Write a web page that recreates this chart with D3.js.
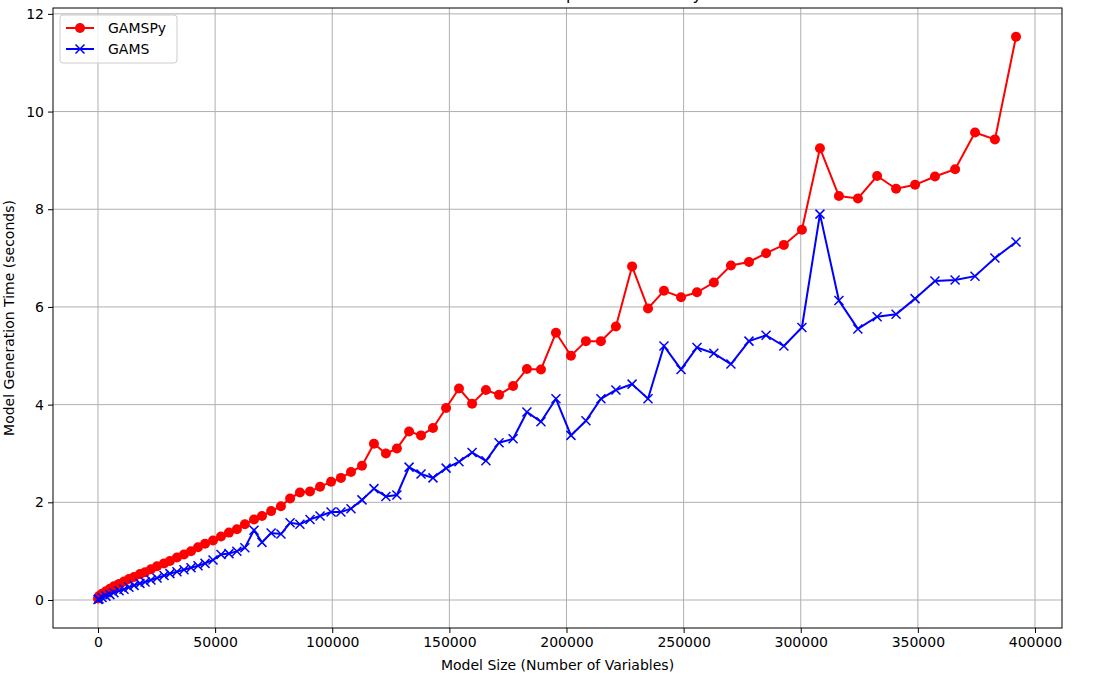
<!DOCTYPE html>
<html><head><meta charset="utf-8">
<script src="https://cdn.jsdelivr.net/npm/d3@7"></script>
<style>body{margin:0;background:#fff}text{font-family:"DejaVu Sans",sans-serif}</style>
</head><body><svg id="c" width="1102" height="677"></svg>
<script>
var sizes = [0,430,1700,3400,5100,6800,9000,11100,13200,15400,17900,20100,22600,25200,28200,30700,33700,36700,39700,42700,45700,49100,52500,55900,59300,62700,66600,70000,73900,78100,82000,86200,90500,94800,99500,103700,108000,112700,117800,122900,127600,132800,137900,143000,148600,154100,159700,165600,171200,177200,183100,189100,195500,201900,208300,214700,221100,228000,234800,241600,248900,255700,262900,270200,277900,285200,292800,300500,308200,316300,324400,332600,340700,348800,357300,365900,374400,382900,391900];
var gamspy = [0.03,0.08,0.13,0.18,0.23,0.28,0.33,0.38,0.43,0.47,0.53,0.57,0.63,0.69,0.75,0.8,0.87,0.93,1.0,1.08,1.15,1.22,1.3,1.38,1.45,1.55,1.65,1.72,1.82,1.92,2.08,2.2,2.22,2.32,2.42,2.5,2.62,2.75,3.2,3.0,3.1,3.45,3.37,3.52,3.93,4.33,4.02,4.3,4.2,4.38,4.73,4.72,5.47,5.0,5.3,5.3,5.6,6.83,5.97,6.33,6.2,6.3,6.5,6.85,6.92,7.1,7.27,7.58,9.25,8.27,8.22,8.68,8.42,8.5,8.67,8.82,9.57,9.43,11.53];
var gams = [0.01,0.02,0.05,0.08,0.11,0.15,0.19,0.22,0.26,0.3,0.34,0.37,0.41,0.45,0.5,0.54,0.58,0.62,0.66,0.7,0.75,0.82,0.93,0.95,1.0,1.07,1.43,1.18,1.37,1.35,1.58,1.55,1.65,1.72,1.8,1.8,1.87,2.05,2.28,2.12,2.15,2.72,2.58,2.5,2.7,2.83,3.02,2.85,3.22,3.3,3.85,3.65,4.12,3.37,3.67,4.12,4.3,4.42,4.12,5.2,4.72,5.17,5.05,4.83,5.3,5.42,5.2,5.58,7.9,6.13,5.55,5.8,5.85,6.17,6.53,6.55,6.63,7.0,7.33];
var xTicks = [0,50000,100000,150000,200000,250000,300000,350000,400000];
var yTicks = [0,2,4,6,8,10,12];

var svg = d3.select("#c");
var L = 53, R = 1062, T = 8, B = 628;
var x = d3.scaleLinear().domain([-19210, 411530]).range([L, R]);
var y = d3.scaleLinear().domain([-0.573, 12.12]).range([B, T]);

// title, mostly above the figure edge as in the original
svg.append("text").attr("x", (L + R) / 2).attr("y", 0).attr("text-anchor", "middle")
    .style("font-size", "16px").text("Model Generation Time Comparison: GAMSPy vs GAMS");

var grid = svg.append("g").attr("stroke", "#b0b0b0").attr("stroke-width", 1);
xTicks.forEach(function(t) {
    grid.append("line").attr("x1", x(t)).attr("x2", x(t)).attr("y1", T).attr("y2", B);
});
yTicks.forEach(function(t) {
    grid.append("line").attr("x1", L).attr("x2", R).attr("y1", y(t)).attr("y2", y(t));
});

var xAxis = svg.append("g").attr("transform", "translate(0," + B + ")")
    .call(d3.axisBottom(x).tickValues(xTicks).tickFormat(d3.format("d")).tickSizeOuter(0).tickSize(5).tickPadding(4));
var yAxis = svg.append("g").attr("transform", "translate(" + L + ",0)")
    .call(d3.axisLeft(y).tickValues(yTicks).tickFormat(d3.format("d")).tickSizeOuter(0).tickSize(5).tickPadding(4));
[xAxis, yAxis].forEach(function(a) {
    a.select(".domain").remove();
    a.selectAll("text").style("font-size", "14px").style("font-family", "DejaVu Sans").attr("fill", "#000");
});

svg.append("rect").attr("x", L).attr("y", T).attr("width", R - L).attr("height", B - T)
    .attr("fill", "none").attr("stroke", "#000").attr("stroke-width", 1);

svg.append("text").attr("x", (L + R) / 2).attr("y", 670).attr("text-anchor", "middle")
    .style("font-size", "14px").text("Model Size (Number of Variables)");
svg.append("text").attr("transform", "translate(14," + ((T + B) / 2) + ") rotate(-90)")
    .attr("text-anchor", "middle").style("font-size", "14px").text("Model Generation Time (seconds)");

var line = d3.line().x(function(d) { return x(d[0]); }).y(function(d) { return y(d[1]); });
var red = sizes.map(function(s, i) { return [s, gamspy[i]]; });
var blue = sizes.map(function(s, i) { return [s, gams[i]]; });

svg.append("path").datum(red).attr("d", line).attr("fill", "none").attr("stroke", "#ff0000").attr("stroke-width", 2);
svg.append("g").selectAll("circle").data(red).enter().append("circle")
    .attr("cx", function(d) { return x(d[0]); }).attr("cy", function(d) { return y(d[1]); })
    .attr("r", 5).attr("fill", "#ff0000");

svg.append("path").datum(blue).attr("d", line).attr("fill", "none").attr("stroke", "#0000ff").attr("stroke-width", 2);
function cross(g, cx, cy) {
    g.append("path").attr("d", "M" + (cx - 4.5) + "," + (cy - 4.5) + "L" + (cx + 4.5) + "," + (cy + 4.5) +
        "M" + (cx - 4.5) + "," + (cy + 4.5) + "L" + (cx + 4.5) + "," + (cy - 4.5))
        .attr("stroke", "#0000ff").attr("stroke-width", 1.5);
}
var bm = svg.append("g");
blue.forEach(function(d) { cross(bm, x(d[0]), y(d[1])); });

// legend
var lg = svg.append("g");
lg.append("rect").attr("x", 60).attr("y", 15).attr("width", 117).attr("height", 48).attr("rx", 3)
    .attr("fill", "#fff").attr("fill-opacity", 0.8).attr("stroke", "#cccccc");
lg.append("line").attr("x1", 66).attr("x2", 94).attr("y1", 28).attr("y2", 28).attr("stroke", "#ff0000").attr("stroke-width", 2);
lg.append("circle").attr("cx", 80).attr("cy", 28).attr("r", 5).attr("fill", "#ff0000");
lg.append("text").attr("x", 108).attr("y", 33).style("font-size", "14px").text("GAMSPy");
lg.append("line").attr("x1", 66).attr("x2", 94).attr("y1", 49).attr("y2", 49).attr("stroke", "#0000ff").attr("stroke-width", 2);
cross(lg, 80, 49);
lg.append("text").attr("x", 108).attr("y", 54).style("font-size", "14px").text("GAMS");
</script></body></html>
